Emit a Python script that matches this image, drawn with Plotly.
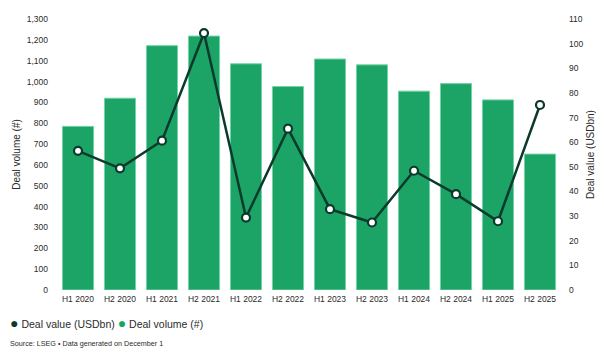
import plotly.graph_objects as go

categories = ["H1 2020", "H2 2020", "H1 2021", "H2 2021", "H1 2022", "H2 2022",
              "H1 2023", "H2 2023", "H1 2024", "H2 2024", "H1 2025", "H2 2025"]
deal_volume = [785, 920, 1172, 1218, 1085, 976, 1108, 1080, 954, 990, 912, 652]
deal_value = [56.5, 49.4, 60.6, 104.3, 29.4, 65.5, 32.8, 27.4, 48.4, 38.9, 27.9, 75.1]

volume_ticks = list(range(0, 1301, 100))
value_ticks = list(range(0, 111, 10))

BAR = "#1ba466"
BAR_EDGE = "#74d3a4"
LINE = "#0b3a2c"
TXT = "#2b2b2b"
REG = "Liberation Sans, Arial, sans-serif"

# page has an ~8px body margin, so the figure is laid out 8px up/left
L, T, PW, PH = 49, 11.3, 504, 270.4
W, H = 604, 355


def px(x):
    return (x - L) / PW


def py(y):
    return (T + PH - y) / PH


fig = go.Figure()
fig.add_trace(go.Bar(
    x=categories, y=deal_volume, name="Deal volume (#)",
    marker=dict(color=BAR, line=dict(color=BAR_EDGE, width=1)),
    yaxis="y", showlegend=False,
))
fig.add_trace(go.Scatter(
    x=categories, y=deal_value, name="Deal value (USDbn)",
    mode="lines+markers", yaxis="y2",
    line=dict(color=LINE, width=2.5),
    marker=dict(size=8, color="white", line=dict(color=LINE, width=2.2)),
    showlegend=False,
))

fig.update_layout(
    width=W, height=H,
    margin=dict(l=L, r=W - L - PW, t=T, b=H - T - PH, autoexpand=False),
    paper_bgcolor="white", plot_bgcolor="white",
    bargap=0.26,
    font=dict(family=REG, color=TXT, size=10),
    xaxis=dict(
        range=[-0.5, len(categories) - 0.5],
        showgrid=False, zeroline=False, showline=False, ticks="",
        tickfont=dict(family=REG, size=8.5, color=TXT),
        tickangle=0, automargin=False,
        ticklabelstandoff=2,
    ),
    yaxis=dict(
        range=[0, 1300], tickvals=volume_ticks, tickformat=",",
        showgrid=False, zeroline=False, showline=False, ticks="",
        tickfont=dict(family=REG, size=8.5, color=TXT),
        ticklabelstandoff=8, automargin=False,
        title=dict(text="Deal volume (#)", font=dict(family=REG, size=10, color=TXT), standoff=4),
    ),
    yaxis2=dict(
        range=[0, 110], tickvals=value_ticks, overlaying="y", side="right",
        showgrid=False, zeroline=False, showline=False, ticks="",
        tickfont=dict(family=REG, size=8.5, color=TXT),
        ticklabelstandoff=7, automargin=False,
        title=dict(text="Deal value (USDbn)", font=dict(family=REG, size=10, color=TXT), standoff=4),
    ),
    showlegend=False,
)

fig.add_annotation(
    xref="paper", yref="paper", x=px(0), y=py(315),
    xanchor="left", yanchor="middle", showarrow=False,
    text=(f"<span style='color:{LINE};font-size:14px'>●</span> Deal value (USDbn) "
          f"<span style='color:{BAR};font-size:14px'>●</span> Deal volume (#)"),
    font=dict(family=REG, size=10.5, color=TXT),
)
fig.add_annotation(
    xref="paper", yref="paper", x=px(0), y=py(335),
    xanchor="left", yanchor="middle", showarrow=False,
    text="Source: LSEG • Data generated on December 1",
    font=dict(family=REG, size=7.2, color=TXT),
)

fig.write_html("out.html")
